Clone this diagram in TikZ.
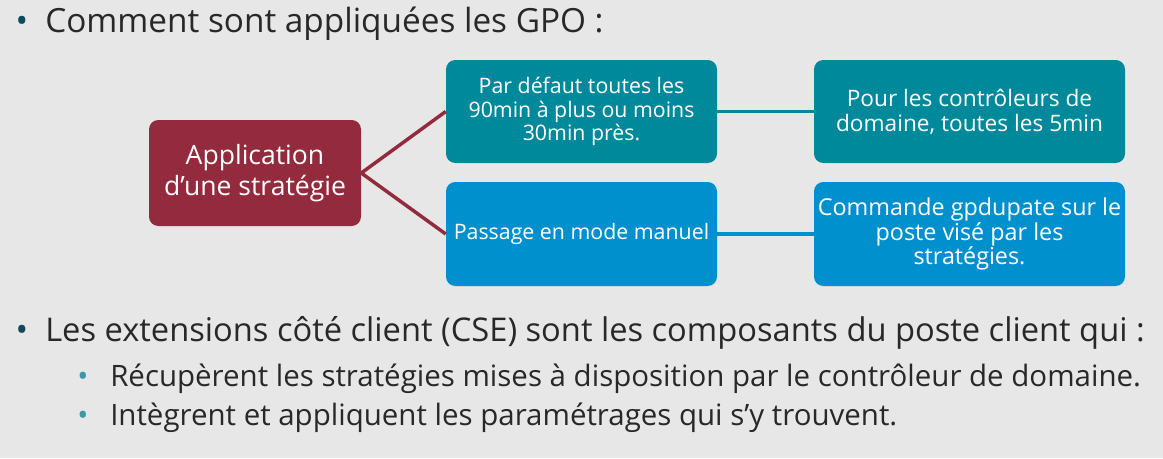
\documentclass[tikz,border=0pt]{standalone}
\usepackage{fontspec}
\setmainfont{Open Sans}
\definecolor{slidebg}{HTML}{E6E7E6}
\definecolor{gpored}{HTML}{932A3D}
\definecolor{gpoteal}{HTML}{00899A}
\definecolor{gpoblue}{HTML}{0090CD}
\definecolor{gpotext}{HTML}{282828}
\definecolor{gpodot}{HTML}{0E4A5C}
\definecolor{gposubdot}{HTML}{3F97A8}
\newcommand{\titlefont}{\fontsize{25}{30}\selectfont}
\newcommand{\subfont}{\fontsize{22.1}{26}\selectfont}
\newcommand{\boxfont}{\fontsize{16}{17.6}\selectfont}
\newcommand{\bigboxfont}{\fontsize{19.9}{22.8}\selectfont}
\tikzset{
  gpobox/.style={rounded corners=7pt,minimum width=203.25pt,minimum height=77.25pt,
    text=white,align=center,inner sep=1pt,font=\boxfont},
  gpolink/.style={line width=2.6pt},
  linetext/.style={anchor=base west,inner sep=0pt,text=gpotext},
}

\begin{document}
\begin{tikzpicture}[x=0.75pt,y=-0.75pt]
  \fill[slidebg] (0,0) rectangle (1163,458);
  \useasboundingbox (0,0) rectangle (1163,458);

  % First bullet.
  \node[anchor=base,inner sep=0pt,text=gpodot,font=\titlefont] (puce1) at (22,32) {\textbullet};
  \node[linetext,font=\titlefont] (titre) at (45,32) {Comment sont appliquées les GPO :};

  % Boxes.
  \node[gpobox,fill=gpored,minimum width=159pt,minimum height=79.5pt,font=\bigboxfont]
    (app) at (255,173) {Application\\d’une stratégie};
  \node[gpobox,fill=gpoteal] (defaut) at (581.5,111.5)
    {Par défaut toutes les\\90min à plus ou moins\\30min près.};
  \node[gpobox,fill=gpoteal,minimum width=233.25pt,font=\fontsize{17}{18.8}\selectfont]
    (dc) at (969.5,111.5) {Pour les contrôleurs de\\domaine, toutes les 5min};
  \node[gpobox,fill=gpoblue,minimum height=78pt] (manuel) at (581.5,234)
    {Passage en mode manuel};
  \node[gpobox,fill=gpoblue,minimum width=233.25pt,minimum height=78pt,
    font=\fontsize{17.5}{18.4}\selectfont]
    (gpup) at (969.5,234) {Commande gpdupate sur le\\poste visé par les\\stratégies.};

  \draw[gpolink,gpored] (app.east) -- (defaut.west);
  \draw[gpolink,gpored] (app.east) -- (manuel.west);
  \draw[gpolink,gpoteal] (defaut.east) -- (dc.west);
  \draw[gpolink,gpoblue] (manuel.east) -- (gpup.west);

  % Second bullet.
  \node[anchor=base,inner sep=0pt,text=gpodot,font=\titlefont] (puce2) at (22,341) {\textbullet};
  \node[linetext,font=\fontsize{24.5}{30}\selectfont] (cse) at (45,341)
    {Les extensions côté client (CSE) sont les composants du poste client qui :};
  \node[anchor=base,inner sep=0pt,text=gposubdot,font=\subfont] (puce3) at (83,386) {\textbullet};
  \node[linetext,font=\subfont] (recup) at (110,386)
    {Récupèrent les stratégies mises à disposition par le contrôleur de domaine.};
  \node[anchor=base,inner sep=0pt,text=gposubdot,font=\subfont] (puce4) at (83,425) {\textbullet};
  \node[linetext,font=\subfont] (integ) at (110,425)
    {Intègrent et appliquent les paramétrages qui s’y trouvent.};
\end{tikzpicture}
\end{document}
